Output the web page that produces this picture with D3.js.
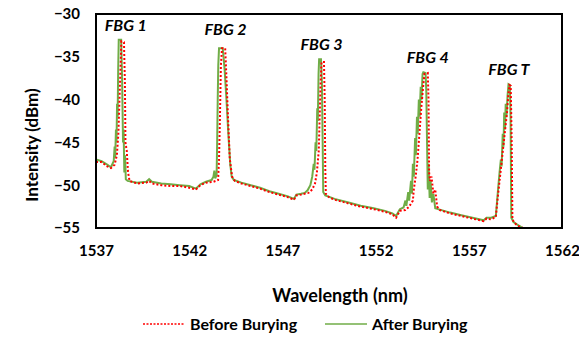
<!DOCTYPE html>
<html>
<head>
<meta charset="utf-8">
<script src="https://cdn.jsdelivr.net/npm/d3@7"></script>
<style>
  body { margin: 0; background: #fff; }
  text { font-family: Lato, "DejaVu Sans", sans-serif; font-weight: bold; fill: #000; }
</style>
</head>
<body>
<div id="chart"></div>
<script>
// chart data
var xTicks = [1537, 1542, 1547, 1552, 1557, 1562];
var yTicks = [-30, -35, -40, -45, -50, -55];

var afterWl = [1537.0, 1537.3, 1537.6, 1537.8, 1537.95, 1538.0, 1538.03, 1538.07, 1538.1, 1538.13, 1538.16, 1538.19, 1538.22, 1538.35, 1538.4, 1538.45, 1538.48, 1538.52, 1538.56, 1538.6, 1538.7,
  1539.2, 1539.7, 1539.85, 1540.0, 1540.5, 1541.0, 1541.5, 1542.0, 1542.36, 1542.6, 1542.9, 1543.2, 1543.3, 1543.35, 1543.4, 1543.47, 1543.5, 1543.53, 1543.56, 1543.6, 1543.8, 1543.9, 1544.0, 1544.1, 1544.2, 1544.28, 1544.4,
  1544.8, 1545.3, 1545.8, 1546.3, 1546.8, 1547.3, 1547.62, 1547.75, 1548.0, 1548.2, 1548.35, 1548.5, 1548.6, 1548.68, 1548.72, 1548.78, 1548.82, 1548.87, 1548.9, 1548.94, 1548.97, 1549.07, 1549.12, 1549.16, 1549.19, 1549.3,
  1549.8, 1550.5, 1551.2, 1551.9, 1552.5, 1552.9, 1553.1, 1553.3, 1553.5, 1553.6, 1553.65, 1553.75, 1553.8, 1553.9, 1553.95, 1554.0, 1554.05, 1554.12, 1554.16, 1554.22, 1554.26, 1554.32, 1554.36, 1554.42, 1554.46, 1554.52, 1554.56, 1554.68, 1554.72, 1554.76, 1554.8, 1554.84, 1554.9, 1554.95, 1555.02, 1555.1, 1555.2, 1555.35,
  1556.0, 1556.6, 1557.2, 1557.8, 1557.95, 1558.2, 1558.45, 1558.55, 1558.65, 1558.72, 1558.76, 1558.82, 1558.86, 1558.9, 1558.94, 1558.98, 1559.02, 1559.08, 1559.13, 1559.2, 1559.24, 1559.28, 1559.4, 1559.6, 1559.9, 1560.2];
var afterDb = [-47.0, -47.2, -47.6, -47.9, -47.2, -45.5, -46.8, -43.5, -45.0, -40.5, -42.0, -36.5, -33.0, -33.0, -37.5, -45.0, -43.5, -48.5, -46.5, -49.3, -49.5,
  -49.7, -49.6, -49.3, -49.6, -49.8, -49.9, -50.0, -50.1, -50.4, -49.9, -49.6, -49.4, -49.0, -48.3, -49.2, -48.8, -45.0, -40.0, -36.0, -34.0, -34.0, -36.5, -40.0, -44.0, -47.5, -49.0, -49.4,
  -49.7, -50.0, -50.3, -50.7, -51.0, -51.3, -51.6, -51.1, -51.0, -50.9, -50.6, -50.0, -49.0, -47.5, -48.2, -45.0, -46.0, -41.0, -42.5, -37.0, -35.3, -35.3, -38.0, -45.0, -50.8, -51.2,
  -51.6, -52.0, -52.4, -52.7, -53.0, -53.3, -53.6, -52.8, -52.6, -51.8, -52.4, -50.8, -51.8, -49.5, -51.0, -47.5, -49.0, -44.5, -46.5, -42.0, -44.0, -40.0, -42.0, -38.5, -40.0, -37.0, -36.8, -36.9, -39.0, -45.0, -50.5, -47.5, -51.5, -49.5, -52.0, -51.0, -52.7, -52.8,
  -53.2, -53.5, -53.8, -54.1, -53.8, -53.8, -53.6, -51.0, -48.5, -47.0, -47.8, -44.0, -45.5, -41.5, -43.5, -40.5, -42.0, -39.5, -38.2, -38.3, -42.0, -53.8, -54.3, -54.6, -55.0, -55.4];

var beforeWl = [1537.0, 1537.3, 1537.6, 1537.8, 1538.0, 1538.12, 1538.2, 1538.26, 1538.32, 1538.36, 1538.5, 1538.55, 1538.58, 1538.65, 1538.72, 1538.8,
  1539.2, 1539.7, 1539.85, 1540.0, 1540.5, 1541.0, 1541.5, 1542.0, 1542.36, 1542.6, 1542.9, 1543.3, 1543.55, 1543.6, 1543.65, 1543.7, 1543.76, 1543.93, 1544.0, 1544.08, 1544.18, 1544.3, 1544.45,
  1544.8, 1545.3, 1545.8, 1546.3, 1546.8, 1547.3, 1547.62, 1547.75, 1548.0, 1548.4, 1548.6, 1548.75, 1548.85, 1548.95, 1549.0, 1549.05, 1549.1, 1549.23, 1549.27, 1549.3, 1549.33, 1549.5,
  1549.8, 1550.5, 1551.2, 1551.9, 1552.5, 1552.9, 1553.1, 1553.3, 1553.6, 1553.8, 1554.0, 1554.05, 1554.15, 1554.25, 1554.35, 1554.45, 1554.55, 1554.62, 1554.8, 1554.84, 1554.87, 1554.92, 1555.0, 1555.1, 1555.2, 1555.3, 1555.45,
  1556.0, 1556.6, 1557.2, 1557.8, 1557.95, 1558.2, 1558.45, 1558.55, 1558.7, 1558.85, 1558.95, 1559.05, 1559.12, 1559.18, 1559.25, 1559.3, 1559.34, 1559.45, 1559.6, 1559.9, 1560.2];
var beforeDb = [-47.3, -47.3, -47.8, -48.0, -47.6, -46.5, -44.0, -40.0, -36.0, -33.2, -33.3, -38.0, -45.0, -46.0, -48.5, -49.5,
  -49.8, -49.7, -49.5, -49.8, -50.0, -50.1, -50.1, -50.3, -50.5, -50.0, -49.7, -49.6, -49.4, -47.0, -42.0, -36.0, -34.0, -34.0, -37.5, -42.0, -47.0, -49.0, -49.5,
  -49.8, -50.1, -50.4, -50.8, -51.1, -51.4, -51.7, -51.2, -51.1, -50.9, -50.5, -49.8, -48.5, -46.0, -42.0, -38.0, -35.6, -35.6, -40.0, -48.0, -51.0, -51.4,
  -51.7, -52.1, -52.5, -52.8, -53.1, -53.4, -53.8, -53.0, -52.9, -52.5, -51.8, -50.5, -49.0, -47.0, -44.0, -41.0, -38.5, -37.0, -36.9, -40.0, -48.5, -49.5, -49.0, -51.0, -50.5, -52.5, -52.9,
  -53.3, -53.6, -53.9, -54.2, -53.9, -54.0, -53.7, -51.5, -48.5, -45.5, -43.5, -41.5, -39.5, -38.3, -38.4, -45.0, -54.0, -54.4, -54.7, -55.0, -55.4];

var peakLabels = ["FBG 1", "FBG 2", "FBG 3", "FBG 4", "FBG T"];
var peakLabelWl = [1538.6, 1543.95, 1549.1, 1554.8, 1559.15];
var peakLabelDb = [-32.0, -32.45, -34.2, -35.7, -37.1];

var seriesNames = ["Before Burying", "After Burying"];

var svgWidth = 579;
var svgHeight = 342;
var margin = {top: 14, right: 17, bottom: 114, left: 96};
var width = svgWidth - margin.left - margin.right;
var height = svgHeight - margin.top - margin.bottom;

var svg = d3.select("#chart")
  .append("svg")
  .attr("width", svgWidth)
  .attr("height", svgHeight);

var chartGroup = svg.append("g")
  .attr("transform", `translate(${margin.left}, ${margin.top})`);

var xScale = d3.scaleLinear().domain([1537, 1562]).range([0, width]);
var yScale = d3.scaleLinear().domain([-55, -30]).range([height, 0]);

chartGroup.append("clipPath")
  .attr("id", "plotClip")
  .append("rect")
  .attr("width", width)
  .attr("height", height);

// axes (labels only, the frame is drawn separately)
var bottomAxis = d3.axisBottom(xScale).tickValues(xTicks).tickFormat(d3.format("d")).tickSize(0).tickPadding(17);
var leftAxis = d3.axisLeft(yScale).tickValues(yTicks).tickFormat(d3.format("d")).tickSize(0).tickPadding(16);

var xAxisG = chartGroup.append("g")
  .attr("transform", `translate(0, ${height})`)
  .call(bottomAxis);
var yAxisG = chartGroup.append("g").call(leftAxis);
[xAxisG, yAxisG].forEach(function(g) {
  g.select(".domain").remove();
  g.selectAll("text")
    .style("font-family", "Lato, sans-serif")
    .style("font-weight", "bold")
    .style("font-size", "15px")
    .attr("fill", "#000");
});

var makeLine = d3.line()
  .x(d => xScale(d[0]))
  .y(d => yScale(d[1]));

var beforeData = beforeWl.map((w, i) => [w, beforeDb[i]]);
var afterData = afterWl.map((w, i) => [w, afterDb[i]]);

var lines = chartGroup.append("g").attr("clip-path", "url(#plotClip)");

lines.append("path")
  .datum(afterData)
  .attr("d", makeLine)
  .attr("fill", "none")
  .attr("stroke", "#70AD47")
  .attr("stroke-width", 2);

lines.append("path")
  .datum(beforeData)
  .attr("d", makeLine)
  .attr("fill", "none")
  .attr("stroke", "#FF0000")
  .attr("stroke-width", 2)
  .attr("stroke-dasharray", "2,2");

// plot frame
chartGroup.append("rect")
  .attr("width", width)
  .attr("height", height)
  .attr("fill", "none")
  .attr("stroke", "#000")
  .attr("stroke-width", 2);

// FBG labels
chartGroup.selectAll(".peakLabel")
  .data(peakLabels)
  .enter()
  .append("text")
  .attr("class", "peakLabel")
  .attr("x", (d, i) => xScale(peakLabelWl[i]))
  .attr("y", (d, i) => yScale(peakLabelDb[i]))
  .attr("text-anchor", "middle")
  .style("font-size", "16px")
  .style("font-style", "italic")
  .text(d => d);

// axis titles
svg.append("text")
  .attr("x", 340)
  .attr("y", 302)
  .attr("text-anchor", "middle")
  .style("font-size", "18px")
  .text("Wavelength (nm)");

svg.append("text")
  .attr("transform", "rotate(-90)")
  .attr("x", -145)
  .attr("y", 38)
  .attr("text-anchor", "middle")
  .style("font-size", "17px")
  .text("Intensity (dBm)");

// legend
var legendX = [143, 325];
var legend = svg.selectAll(".legendItem")
  .data(seriesNames)
  .enter()
  .append("g")
  .attr("class", "legendItem")
  .attr("transform", (d, i) => `translate(${legendX[i]}, 324)`);

legend.append("line")
  .attr("x1", 0)
  .attr("x2", 42)
  .attr("y1", 0)
  .attr("y2", 0)
  .attr("stroke", (d, i) => i === 0 ? "#FF0000" : "#70AD47")
  .attr("stroke-width", 1.6)
  .attr("stroke-dasharray", (d, i) => i === 0 ? "2,1.5" : null);

legend.append("text")
  .attr("x", 47)
  .attr("y", 5.5)
  .style("font-size", "16px")
  .text(d => d);
</script>
</body>
</html>
